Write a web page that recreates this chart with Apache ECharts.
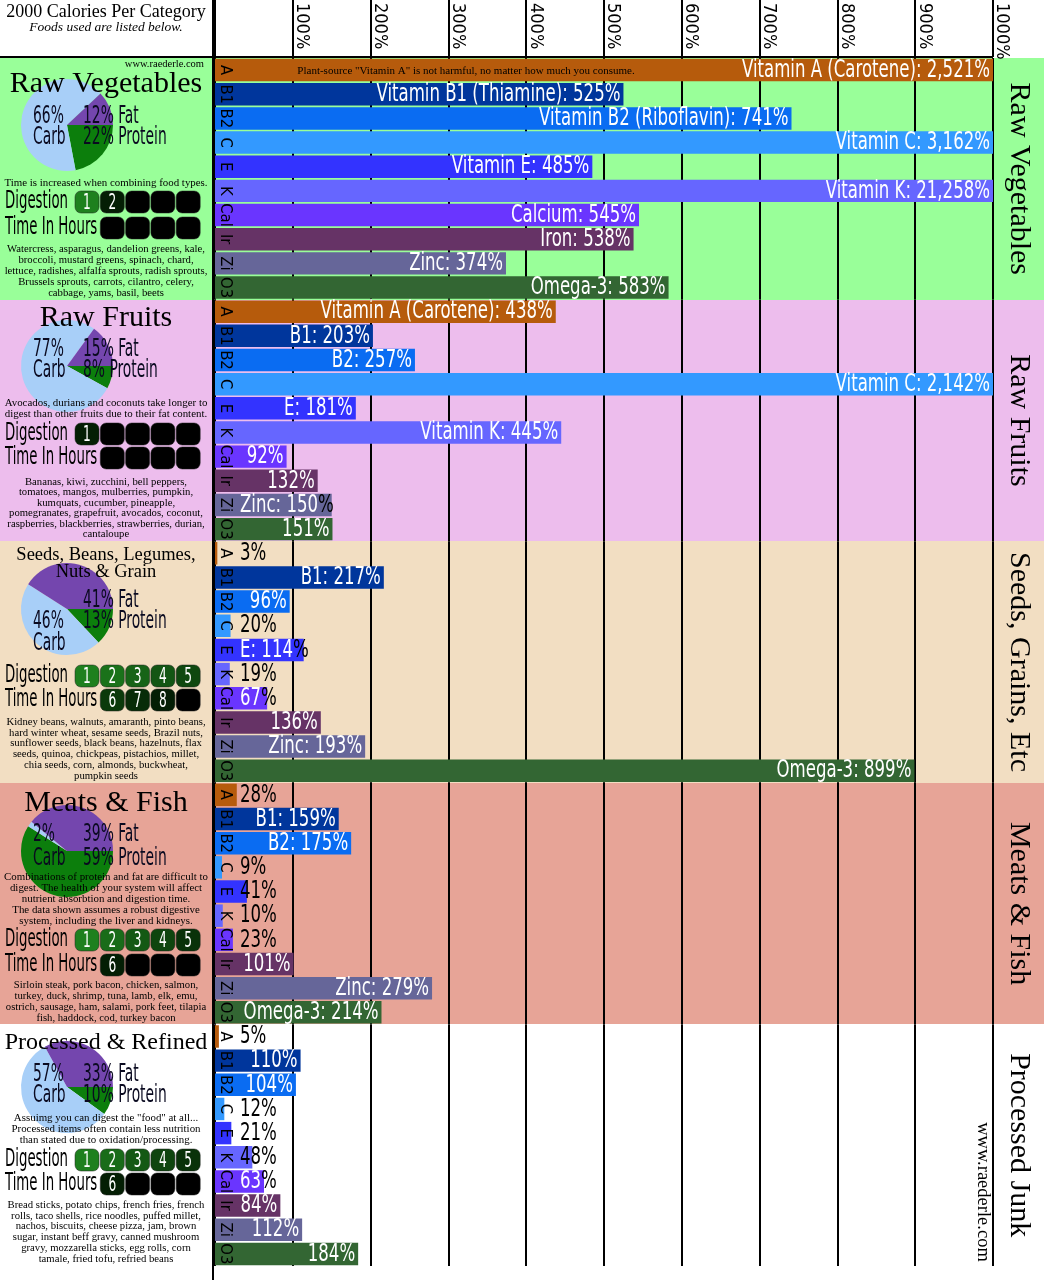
<!DOCTYPE html>
<html><head><meta charset="utf-8">
<script src="https://cdn.jsdelivr.net/npm/echarts@6/dist/echarts.min.js"></script>
<style>html,body{margin:0;padding:0;background:#fff;}#chart{width:1044px;height:1280px;}</style>
</head><body><div id="chart"></div>
<script>
// ---------------- data ----------------
const sectionNames = ['Raw Vegetables', 'Raw Fruits', 'Seeds, Grains, Etc', 'Meats & Fish', 'Processed Junk'];
const nutrientCodes = ['A', 'B1', 'B2', 'C', 'E', 'K', 'Cal', 'Ir', 'Zi', 'O3'];
const rawVegetableValues = [2521, 525, 741, 3162, 485, 21258, 545, 538, 374, 583];
const rawFruitValues = [438, 203, 257, 2142, 181, 445, 92, 132, 150, 151];
const seedGrainValues = [3, 217, 96, 20, 114, 19, 67, 136, 193, 899];
const meatFishValues = [28, 159, 175, 9, 41, 10, 23, 101, 279, 214];
const processedValues = [5, 110, 104, 12, 21, 48, 63, 84, 112, 184];
const rawVegetableNames = ['Vitamin A (Carotene)', 'Vitamin B1 (Thiamine)', 'Vitamin B2 (Riboflavin)', 'Vitamin C', 'Vitamin E', 'Vitamin K', 'Calcium', 'Iron', 'Zinc', 'Omega-3'];
const rawFruitNames = ['Vitamin A (Carotene)', 'B1', 'B2', 'Vitamin C', 'E', 'Vitamin K', '', '', 'Zinc', ''];
const seedGrainNames = ['', 'B1', '', '', 'E', '', '', '', 'Zinc', 'Omega-3'];
const meatFishNames = ['', 'B1', 'B2', '', '', '', '', '', 'Zinc', 'Omega-3'];
const processedNames = ['', '', '', '', '', '', '', '', '', ''];
const carbPercent = [66, 77, 46, 2, 57];
const fatPercent = [12, 15, 41, 39, 33];
const proteinPercent = [22, 8, 13, 59, 10];
const digestionHours = [2, 1, 8, 6, 6];
const panelTitles = [['Raw Vegetables'], ['Raw Fruits'], ['Seeds, Beans, Legumes,', 'Nuts & Grain'], ['Meats & Fish'], ['Processed & Refined']];
const panelNotes = [
  ['Time is increased when combining food types.'],
  ['Avocados, durians and coconuts take longer to', 'digest than other fruits due to their fat content.'],
  [],
  ['Combinations of protein and fat are difficult to', 'digest. The health of your system will affect', 'nutrient absorbtion and digestion time.', 'The data shown assumes a robust digestive', 'system, including the liver and kidneys.'],
  ['Assuimg you can digest the "food" at all...', 'Processed items often contain less nutrition', 'than stated due to oxidation/processing.']
];
const panelFoods = [
  ['Watercress, asparagus, dandelion greens, kale,', 'broccoli, mustard greens, spinach, chard,', 'lettuce, radishes, alfalfa sprouts, radish sprouts,', 'Brussels sprouts, carrots, cilantro, celery,', 'cabbage, yams, basil, beets'],
  ['Bananas, kiwi, zucchini, bell peppers,', 'tomatoes, mangos, mulberries, pumpkin,', 'kumquats, cucumber, pineapple,', 'pomegranates, grapefruit, avocados, coconut,', 'raspberries, blackberries, strawberries, durian,', 'cantaloupe'],
  ['Kidney beans, walnuts, amaranth, pinto beans,', 'hard winter wheat, sesame seeds, Brazil nuts,', 'sunflower seeds, black beans, hazelnuts, flax', 'seeds, quinoa, chickpeas, pistachios, millet,', 'chia seeds, corn, almonds, buckwheat,', 'pumpkin seeds'],
  ['Sirloin steak, pork bacon, chicken, salmon,', 'turkey, duck, shrimp, tuna, lamb, elk, emu,', 'ostrich, sausage, ham, salami, pork feet, tilapia', 'fish, haddock, cod, turkey bacon'],
  ['Bread sticks, potato chips, french fries, french', 'rolls, taco shells, rice noodles, puffed millet,', 'nachos, biscuits, cheese pizza, jam, brown', 'sugar, instant beff gravy, canned mushroom', 'gravy, mozzarella sticks, egg rolls, corn', 'tamale, fried tofu, refried beans']
];
const vitaminANote = 'Plant-source "Vitamin A" is not harmful, no matter how much you consume.';

// ---------------- styles / layout ----------------
const sectionValues = [rawVegetableValues, rawFruitValues, seedGrainValues, meatFishValues, processedValues];
const sectionLabelNames = [rawVegetableNames, rawFruitNames, seedGrainNames, meatFishNames, processedNames];
const nutrientColors = ['#B65B0C', '#00369C', '#0A6CF2', '#3399FF', '#3333FF', '#6666FF', '#6A35FF', '#663366', '#666699', '#336633'];
const sectionBg = ['#99FF99', '#EDBDED', '#F2DEC2', '#E7A497', '#FFFFFF'];
const CARB = '#A8CFF8', FAT = '#7446AE', PROT = '#0C7E0C';
const GRID_LEFT = 215, GRID_W = 778, TOP0 = 58, SEC_H = 241.6;

const mctx = document.createElement('canvas').getContext('2d');
function hasFont(name) {
  const t = 'abcdefghijklmnopqrstuvwxyzABCDEFGHIJ0123456789';
  let diff = false;
  ['monospace', 'serif'].forEach(fb => {
    mctx.font = '40px ' + fb; const a = mctx.measureText(t).width;
    mctx.font = "40px '" + name + "', " + fb; const b = mctx.measureText(t).width;
    if (a !== b) diff = true;
  });
  return diff;
}
const condName = ['Liberation Sans Narrow', 'Arial Narrow', 'Nimbus Sans Narrow', 'DejaVu Sans Condensed', 'Roboto'].find(hasFont) || 'Liberation Sans';
const COND = "'" + condName + "'";
const SERIF = "'Liberation Serif', 'Times New Roman', serif";
function tw(text, size, fam) { mctx.font = size + 'px ' + fam; return mctx.measureText(text).width; }
const CS = 63 / tw('Digestion', 24, COND);   // horizontal squeeze for panel text
const LBL = 24;                                // bar label font size
const LS = Math.min(1.05, 244 / tw('Vitamin B1 (Thiamine): 525%', LBL, COND)); // bar label squeeze

function fmt(v) { return v.toLocaleString('en-US'); }

// custom label renderer positioned through the axes
function labelItem(i, j, api) {
  const v = sectionValues[i][j];
  const name = sectionLabelNames[i][j];
  const text = (name ? name + ': ' : '') + fmt(v) + '%';
  const p0 = api.coord([0, j]);
  const p1 = api.coord([Math.min(v, 1000), j]);
  const x0 = p0[0], barEnd = p1[0], y = p1[1];
  const font = LBL + 'px ' + COND;
  const w = tw(text, LBL, COND) * LS;
  const mk = (t, x, fill, align) => ({
    type: 'text', x: x, y: y + 0.5, scaleX: LS, silent: true,
    style: { text: t, font: font, fill: fill, align: align, textAlign: align, verticalAlign: 'middle', textVerticalAlign: 'middle' }
  });
  if (barEnd - 3 - w >= x0 + 22) return mk(text, barEnd - 3, '#fff', 'right');
  if (v < 50) return mk(text, x0 + 25, '#000', 'left');
  let acc = x0 + 25, white = '', black = '';
  for (const ch of text) {
    const cw = tw(ch, LBL, COND) * LS;
    if (black === '' && acc + cw <= barEnd + 2) white += ch; else black += ch;
    acc += cw;
  }
  const ww = tw(white, LBL, COND) * LS;
  const kids = [];
  if (white) kids.push(mk(white, x0 + 25, '#fff', 'left'));
  if (black) kids.push(mk(black, x0 + 25 + ww, '#000', 'left'));
  return { type: 'group', children: kids };
}

const panelLayout = [
  { titleY: [84], titleSize: 30, pieY: 125, rowY: [116, 137], carbY: [116, 137], noteY: 183, digY: [202, 228], foodY: 249, step: 11 },
  { titleY: [318], titleSize: 30, pieY: 366, rowY: [349, 370], carbY: [349, 370], noteY: 403, digY: [434, 458], foodY: 482, step: 10.5 },
  { titleY: [555, 572], titleSize: 18.5, pieY: 609, rowY: [600, 621], carbY: [621, 643], noteY: 0, digY: [676, 700], foodY: 722, step: 10.8 },
  { titleY: [803], titleSize: 30, pieY: 851, rowY: [834, 858], carbY: [834, 858], noteY: 877, digY: [940, 965], foodY: 985, step: 11 },
  { titleY: [1043], titleSize: 24, pieY: 1087, rowY: [1074, 1095], carbY: [1074, 1095], noteY: 1118, digY: [1160, 1184], foodY: 1205, step: 10.8 }
];

// ---------------- graphics (panels, text) ----------------
const G = [];
function T(text, x, y, font, o) {
  o = o || {};
  const align = o.align || 'left';
  return {
    type: 'text', x: x, y: y, silent: true, z: o.z || 20, rotation: o.rotation || 0,
    scaleX: o.scaleX || 1,
    style: { text: text, font: font, fill: o.fill || '#000', align: align, textAlign: align, verticalAlign: 'middle', textVerticalAlign: 'middle' }
  };
}
for (let i = 0; i < 5; i++) {
  const y0 = Math.round(TOP0 + i * SEC_H);
  const y1 = i === 4 ? 1280 : Math.round(TOP0 + (i + 1) * SEC_H);
  G.push({ type: 'rect', silent: true, z: -10, shape: { x: 0, y: y0, width: 1044, height: y1 - y0 }, style: { fill: sectionBg[i] } });
  G.push(T(sectionNames[i], 1019, TOP0 + (i + 0.5) * SEC_H, '30px ' + SERIF, { align: 'center', rotation: -Math.PI / 2 }));
}
// borders
G.push({ type: 'line', silent: true, z: 30, shape: { x1: 213, y1: 0, x2: 213, y2: 1280 }, style: { stroke: '#000', lineWidth: 2 } });
G.push({ type: 'line', silent: true, z: 30, shape: { x1: 0, y1: 57, x2: 993, y2: 57 }, style: { stroke: '#000', lineWidth: 2 } });
// header
G.push(T('2000 Calories Per Category', 106, 12, '18px ' + SERIF, { align: 'center' }));
G.push(T('Foods used are listed below.', 106, 27, 'italic 13.5px ' + SERIF, { align: 'center' }));
G.push(T('www.raederle.com', 204, 64, '10.5px ' + SERIF, { align: 'right' }));
G.push(T(vitaminANote, 466, 71, '11px ' + SERIF, { align: 'center' }));
G.push(T('www.raederle.com', 983, 1192, '18.5px ' + SERIF, { align: 'center', rotation: -Math.PI / 2 }));

function boxColor(k, n) {
  if (k > n) return '#000';
  const t = n === 1 ? 1 : (k - 1) / (n - 1);
  const a = [30, 128, 30], b = [4, 30, 4];
  const c = a.map((v, j) => Math.round(v + (b[j] - v) * t));
  return 'rgb(' + c.join(',') + ')';
}
for (let i = 0; i < 5; i++) {
  const L = panelLayout[i];
  panelTitles[i].forEach((t, j) => G.push(T(t, 106, L.titleY[j], L.titleSize + 'px ' + SERIF, { align: 'center' })));
  const cf = '25px ' + COND;
  G.push(T(carbPercent[i] + '%', 33, L.carbY[0], cf, { scaleX: CS, fill: '#0a0a20' }));
  G.push(T('Carb', 33, L.carbY[1], cf, { scaleX: CS, fill: '#0a0a20' }));
  G.push(T(fatPercent[i] + '% Fat', 83, L.rowY[0], cf, { scaleX: CS, fill: '#0a0a20' }));
  G.push(T(proteinPercent[i] + '% Protein', 83, L.rowY[1], cf, { scaleX: CS, fill: '#0a0a20' }));
  panelNotes[i].forEach((t, j) => G.push(T(t, 106, L.noteY + j * 11, '10.9px ' + SERIF, { align: 'center' })));
  panelFoods[i].forEach((t, j) => G.push(T(t, 106, L.foodY + j * L.step, '10.7px ' + SERIF, { align: 'center' })));
  G.push(T('Digestion', 5, L.digY[0], '24px ' + COND, { scaleX: CS }));
  G.push(T('Time In Hours', 5, L.digY[1], '24px ' + COND, { scaleX: CS }));
  for (let k = 1; k <= 9; k++) {
    const col = k <= 5 ? k - 1 : k - 5;
    const row = k <= 5 ? 0 : 1;
    const cx = 75 + col * 25.3, cy = L.digY[row];
    G.push({ type: 'rect', silent: true, z: 15, shape: { x: cx, y: cy - 11, width: 24, height: 22, r: 6 }, style: { fill: boxColor(k, digestionHours[i]), stroke: '#222', lineWidth: 0.5 } });
    if (k <= digestionHours[i]) G.push(T(String(k), cx + 12, cy + 1, '22px ' + COND, { align: 'center', scaleX: CS, fill: '#fff' }));
  }
}

// ---------------- grids / axes / series ----------------
const grids = [], xAxes = [], yAxes = [], series = [];
for (let i = 0; i < 5; i++) {
  grids.push({ left: GRID_LEFT, top: TOP0 + i * SEC_H, width: GRID_W, height: SEC_H });
  xAxes.push({ gridIndex: i, type: 'value', min: 0, max: 1000, interval: 100, axisLine: { show: false }, axisTick: { show: false }, axisLabel: { show: false }, splitLine: { show: true, lineStyle: { color: '#000', width: 2 } } });
  yAxes.push({ gridIndex: i, type: 'category', inverse: true, data: nutrientCodes, z: 10, axisLine: { show: false }, axisTick: { show: false }, splitLine: { show: false },
    axisLabel: { inside: true, interval: 0, rotate: -90, margin: 2, align: 'center', verticalAlign: 'bottom', color: '#000', fontFamily: COND, fontSize: 16.5 } });
  series.push({
    type: 'bar', xAxisIndex: i, yAxisIndex: i, barWidth: '93%', clip: true, silent: true, z: 2,
    emphasis: { disabled: true }, label: { show: false },
    data: sectionValues[i].map((v, j) => ({ value: v, itemStyle: { color: nutrientColors[j] } }))
  });
  series.push({
    type: 'custom', xAxisIndex: i, yAxisIndex: i, silent: true, z: 4, clip: false,
    data: sectionValues[i].map((v, j) => [v, j]),
    encode: { x: 0, y: 1 },
    renderItem: (params, api) => labelItem(i, params.dataIndex, api)
  });
  series.push({
    type: 'pie', center: [67, panelLayout[i].pieY], radius: 46, startAngle: 0, clockwise: true, silent: true, z: 3,
    label: { show: false }, labelLine: { show: false }, emphasis: { disabled: true },
    data: [
      { name: 'Protein', value: proteinPercent[i], itemStyle: { color: PROT } },
      { name: 'Carb', value: carbPercent[i], itemStyle: { color: CARB } },
      { name: 'Fat', value: fatPercent[i], itemStyle: { color: FAT } }
    ]
  });
}
// header grid with percent tick labels
grids.push({ left: GRID_LEFT, top: 0, width: GRID_W, height: 57 });
xAxes.push({ gridIndex: 5, type: 'value', position: 'top', min: 0, max: 1000, interval: 100, axisLine: { show: false }, axisTick: { show: false },
  splitLine: { show: true, lineStyle: { color: '#000', width: 2 } },
  axisLabel: { inside: true, rotate: -90, margin: 3, align: 'left', verticalAlign: 'bottom', color: '#000', fontFamily: COND, fontSize: 18, formatter: v => v === 0 ? '' : v + '%' } });
yAxes.push({ gridIndex: 5, type: 'value', show: false });

const chart = echarts.init(document.getElementById('chart'));
chart.setOption({
  backgroundColor: '#fff', animation: false,
  grid: grids, xAxis: xAxes, yAxis: yAxes, series: series, graphic: G
});
</script></body></html>
